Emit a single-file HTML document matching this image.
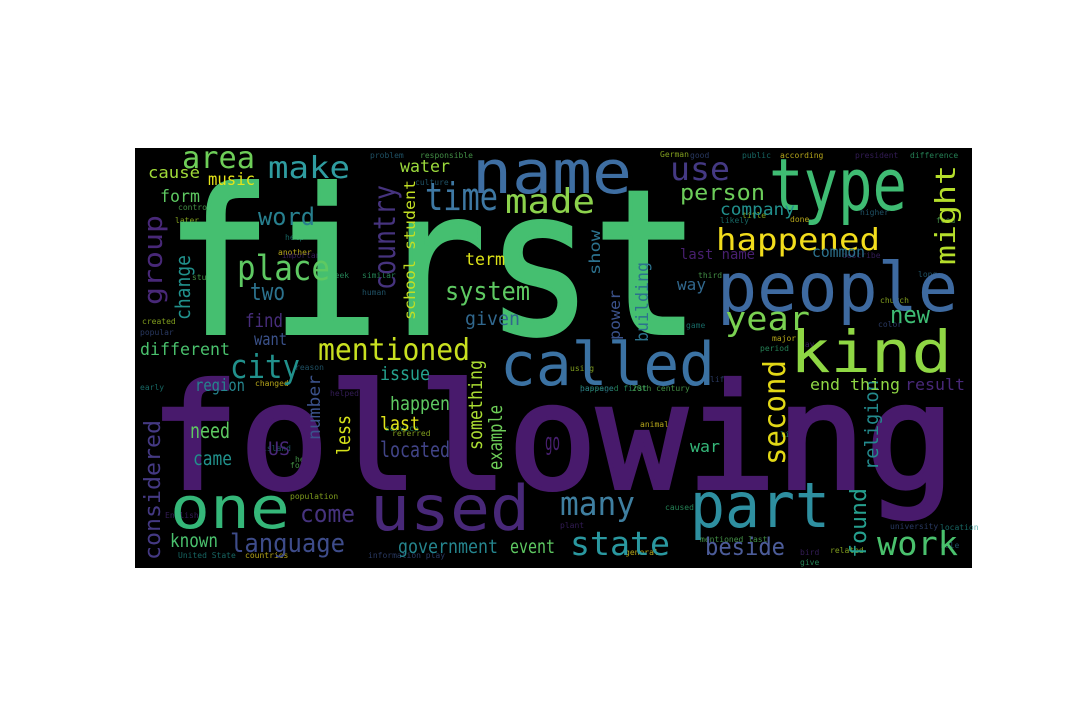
<!DOCTYPE html>
<html><head><meta charset="utf-8">
<style>
html,body{margin:0;padding:0;background:#fff;width:1080px;height:720px;overflow:hidden}
svg{position:absolute;left:0;top:0}
text{font-family:"DejaVu Sans Mono","Liberation Mono",monospace}
</style></head>
<body>
<svg id="cloud" width="1080" height="720">
<rect x="135" y="148" width="837" height="420" fill="#000"/>
</svg>
<script>
// Big words: word, x, baseline y, font size, width, color, vertical(1)
const words = ["first","following","name","type","people","kind","called","used","one","part","work","state","beside","found","many","second","religion","end thing","result","war","happened","might","use","person","company","common","last name","year","new","building","power","way","time","made","area","make","country","water","music","cause","form","word","group","change","place","two","system","term","given","school student","find","want","different","mentioned","city","region","issue","happen","last","located","number","less","something","example","considered","need","US","came","come","known","language","government","event","go","show"];
const xs = [165,150,472,769,717,790,500,370,170,690,877,570,705,866,560,785,878,810,905,690,716,955,670,680,720,812,680,725,890,648,620,677,425,505,182,268,395,400,208,148,160,258,162,190,237,250,445,465,465,415,245,254,140,318,230,195,380,390,380,380,320,350,482,502,160,190,268,193,300,170,230,398,510,545,600];
const ys = [333,488,193,210,311,372,385,530,528,527,555,555,555,558,515,465,470,390,390,452,250,265,180,200,215,257,259,330,323,342,340,290,210,213,168,178,290,172,185,178,202,225,305,320,280,300,300,265,325,320,327,345,355,360,378,391,380,410,430,457,440,455,450,470,560,438,455,465,522,547,552,553,553,450,275];
const sizes = [200,145,60,72,68,58,60,62,58,62,33,33,24,22,33,30,19,16,16,16,30,28,32,22,17,15,14,33,24,17,15,16,38,34,30,30,30,17,17,16,17,24,26,20,35,24,26,17,19,15,19,17,17,30,33,17,19,19,19,21,17,19,19,19,22,21,19,19,24,19,26,19,19,24,15];
const widths = [535,805,160,138,241,162,215,160,120,140,81,100,80,70,75,105,90,90,60,30,164,100,60,85,75,53,75,85,40,80,50,29,73,90,73,82,105,50,47,52,40,57,90,65,93,35,85,40,55,140,38,33,90,152,70,50,50,60,40,70,65,40,90,65,140,40,22,39,55,48,115,100,45,15,45];
const colors = ["#45bf70","#481a6c","#3e6ea2","#3fbc73","#3e6aa0","#8fd744","#3b72a3","#482878","#35b779","#2e8fa0","#4ac16d","#2a98a0","#4c5c99","#26a08f","#3f7fa0","#e2d816","#238a8d","#8fd744","#482878","#35b779","#f2dd1c","#b5de2b","#443983","#6ccd5a","#21908d","#2c728e","#481f70","#7ad151","#3ebc74","#2c728e","#3b528b","#31688e","#3e78a3","#8cd24c","#6ece58","#2f9ca0","#46337e","#9bd93c","#e5e419","#a0da39","#5ec962","#277f8e","#482878","#21918c","#5ec962","#2c728e","#5ec962","#dde318","#31688e","#c2df23","#472d7b","#3b528b","#4ac16d","#c8e020","#21918c","#25858e","#25a18e","#5ec962","#e0e319","#414487","#3b528b","#d5e21a","#aadc32","#6ece58","#443983","#5ec962","#482878","#21918c","#46337e","#4ac16d","#3e4c8a","#25858e","#5ec962","#481f70","#2c728e"];
const vertical = [0,0,0,0,0,0,0,0,0,0,0,0,0,1,0,1,1,0,0,0,0,1,0,0,0,0,0,0,0,1,1,0,0,0,0,0,1,0,0,0,0,0,1,1,0,0,0,0,0,1,0,0,0,0,0,0,0,0,0,0,1,1,1,1,1,0,0,0,0,0,0,0,0,0,1];
// Small words
const smallWords = ["problem","responsible","German","good","public","according","president","difference","culture","control","later","point","help","another","important","similar","human","study","created","popular","early","changed","helped","service","island","held","population","information play","United State","countries","plant","happened first","passage","20th century","using","life","light","general","bird","give","rule","mentioned last","related","university","location","animal","English","caused","long","third","church","color","game","major","day","period","higher","food","title","land","likely","done","describe","Greek","reason","force","referred"];
const smallX = [370,420,660,690,742,780,855,910,415,178,175,235,285,278,282,362,362,192,142,140,140,255,330,385,262,295,290,368,178,245,560,580,580,632,570,710,780,625,800,800,940,700,830,890,940,640,165,665,918,698,880,878,686,772,800,760,860,936,742,550,720,790,842,325,295,290,392];
const smallY = [158,158,157,158,158,158,158,158,185,210,223,228,240,255,258,278,295,280,324,335,390,386,396,431,451,462,499,558,558,558,528,391,391,391,371,382,437,555,555,565,548,542,553,529,530,427,518,510,277,278,303,327,328,341,347,351,215,223,218,232,223,222,258,278,370,468,436];
const smallSize = [8,8,8,8,8,8,8,8,8,8,8,8,8,8,8,8,8,8,8,8,8,8,8,8,8,8,8,8,8,8,8,8,8,8,8,8,8,8,8,8,8,8,8,8,8,8,8,8,8,8,8,8,8,8,8,8,8,8,8,8,8,8,8,8,8,8,8];
const smallPalette = ["#2c728e","#5ec962","#b5de2b","#3b528b","#21918c","#fde725","#482878","#35b779"];
const svg = document.getElementById('cloud');
const NS = "http://www.w3.org/2000/svg";
function addWord(w, x, y, fs, width, color, vert, op) {
  const t = document.createElementNS(NS, 'text');
  t.textContent = w;
  t.setAttribute('font-size', fs);
  if (width) { t.setAttribute('textLength', width); t.setAttribute('lengthAdjust', 'spacingAndGlyphs'); }
  t.setAttribute('fill', color);
  if (fs >= 100) { t.setAttribute('stroke', color); t.setAttribute('stroke-width', 4); }
  if (op) t.setAttribute('opacity', op);
  if (vert) {
    t.setAttribute('transform', 'translate(' + x + ',' + y + ') rotate(-90)');
    t.setAttribute('x', 0); t.setAttribute('y', 0);
  } else {
    t.setAttribute('x', x); t.setAttribute('y', y);
  }
  
  
  svg.appendChild(t);
}
for (let i = 0; i < smallWords.length; i++) {
  addWord(smallWords[i], smallX[i], smallY[i], smallSize[i], 0, smallPalette[i % smallPalette.length], 0, '0.7');
}
for (let i = 0; i < words.length; i++) {
  addWord(words[i], xs[i], ys[i], sizes[i], widths[i], colors[i], vertical[i], null);
}
</script>
</body></html>
